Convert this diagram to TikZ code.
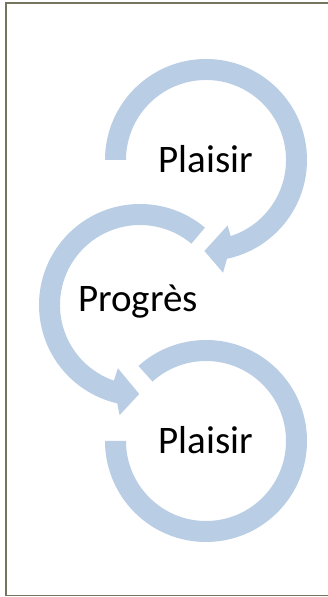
\documentclass[tikz,border=0pt]{standalone}
\usepackage{fontspec}
\setmainfont{Carlito}
\definecolor{arrowblue}{HTML}{B9CDE5}
\definecolor{framegray}{HTML}{75755F}
\tikzset{
  band/.style={fill=arrowblue, draw=none},
  label/.style={font=\fontsize{39}{47}\selectfont, text=black, anchor=base, inner sep=0pt},
}
\begin{document}
\begin{tikzpicture}[x=1pt,y=1pt]
\useasboundingbox (0,0) rectangle (328,597);
% frame
\draw[framegray, line width=1.3pt] (335,594) -- (6,594) -- (6,1.2) -- (335,1.2);
% top arrow (clockwise)
\begin{scope}[shift={(206,437)}]
  \fill[band] (180:101pt) arc[start angle=180, end angle=-78, radius=101pt]
    -- (-81.4:114pt) -- (-91:91pt) -- (-71.8:69pt) -- (-72:80pt)
    arc[start angle=-72, end angle=180, radius=80pt] -- cycle;
\end{scope}
% middle arrow (counterclockwise)
\begin{scope}[shift={(140,292)}]
  \fill[band] (50:101pt) arc[start angle=50, end angle=257, radius=101pt]
    -- (259.5:112pt) -- (269.5:89pt) -- (250.7:67pt) -- (251:80pt)
    arc[start angle=251, end angle=50, radius=80pt] -- cycle;
\end{scope}
% bottom arc (clockwise, no head)
\begin{scope}[shift={(206,156)}]
  \fill[band] (132:101pt) arc[start angle=132, end angle=-180, radius=101pt]
    -- (-180:80pt) arc[start angle=-180, end angle=132, radius=80pt] -- cycle;
\end{scope}
\node[label] (p1) at (206,424.3) {Plaisir};
\node[label] (p2) at (138,285) {Progrès};
\node[label] (p3) at (206,143.7) {Plaisir};
\end{tikzpicture}
\end{document}
